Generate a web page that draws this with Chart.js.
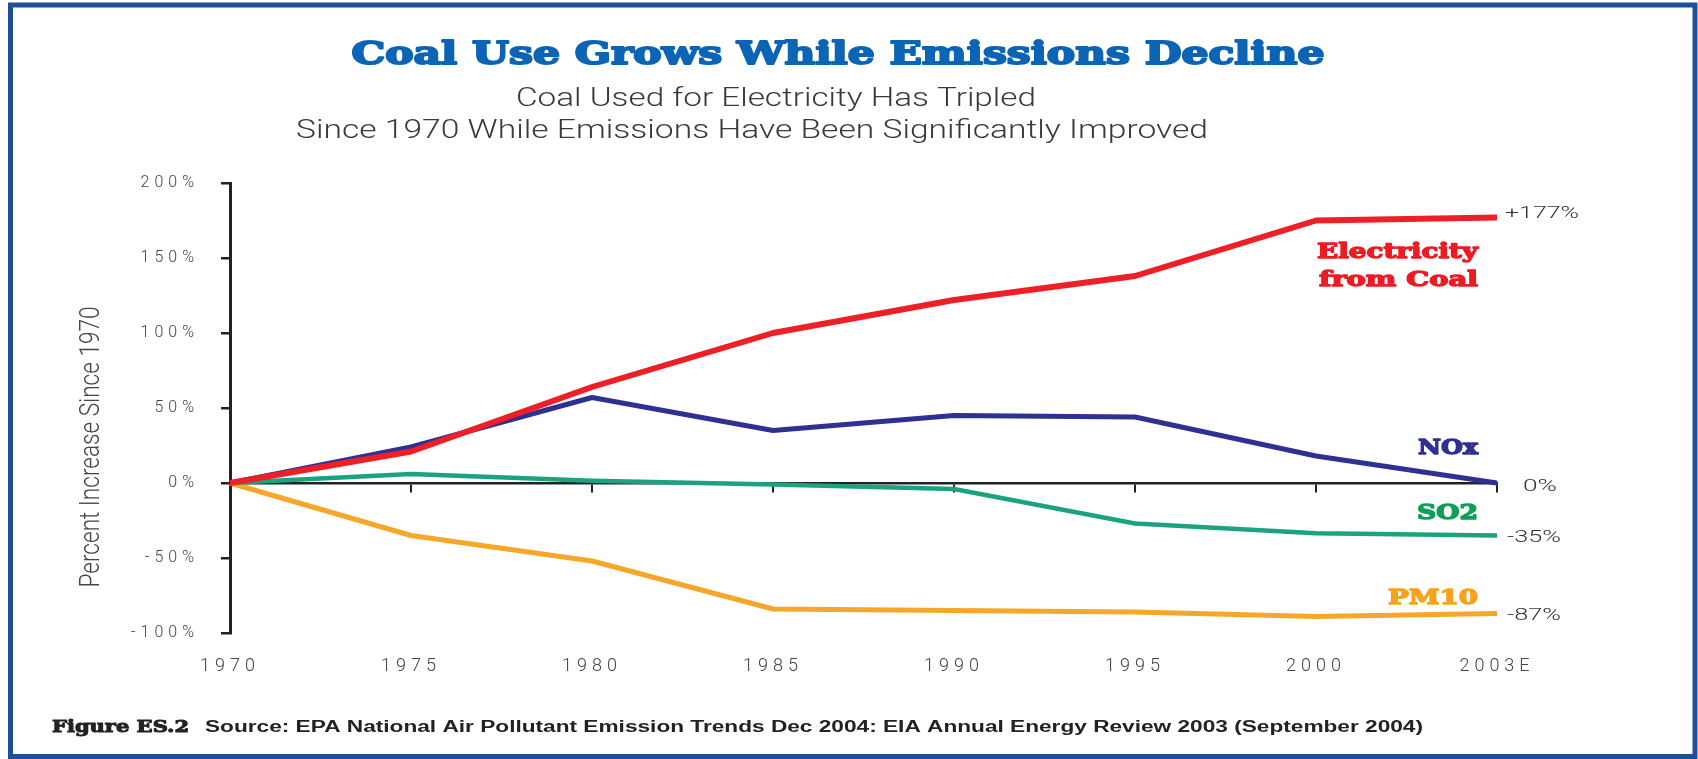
<!DOCTYPE html>
<html>
<head>
<meta charset="utf-8">
<title>Coal Use Grows While Emissions Decline</title>
<script src="https://cdn.jsdelivr.net/npm/chart.js@4.4.1/dist/chart.umd.min.js"></script>
<style>
    html, body { margin: 0; padding: 0; background: #fff; }
    #wrap { width: 1698px; height: 759px; position: relative; }
</style>
</head>
<body>
<div id="wrap"><canvas id="myChart"></canvas></div>
<script>
let years = ['1970', '1975', '1980', '1985', '1990', '1995', '2000', '2003E'];
let electricity = [0, 21, 64, 100, 122, 138, 175, 177];
let nox = [0, 24, 57, 35, 45, 44, 18, 0];
let so2 = [0, 6, 1.5, -1, -4, -27, -33.5, -35];
let pm10 = [0, -35, -52, -84, -85, -86, -89, -87];
let seriesNames = ['Electricity from Coal', 'NOx', 'SO2', 'PM10'];
let endLabels = ['+177%', '0%', '-35%', '-87%'];
let yTicks = [-100, -50, 0, 50, 100, 150, 200];

let lineColors = ['#ed2027', '#2e3192', '#1ba37f', '#f6a629'];
let labelColors = ['#ec1c24', '#2e3192', '#0f9f57', '#f5a31f'];

// draws a line of text squeezed/stretched to the width it has in the printed figure
// heavy > 0 thickens the glyphs with a stroke (the print uses a black-weight face)
function fitText(ctx, text, x, y, width, font, color, align, heavy) {
    ctx.save();
    ctx.letterSpacing = '0px';
    ctx.font = font;
    ctx.fillStyle = color;
    ctx.textBaseline = 'middle';
    ctx.textAlign = align || 'center';
    let w = ctx.measureText(text).width;
    ctx.translate(x, y);
    ctx.scale(width / w, 1);
    if (heavy) {
        ctx.strokeStyle = color;
        ctx.lineWidth = heavy;
        ctx.lineJoin = 'round';
        ctx.strokeText(text, 0, 0);
    }
    ctx.fillText(text, 0, 0);
    ctx.restore();
}

const annotations = {
    id: 'annotations',
    beforeDraw(chart) {
        // axis labels in the figure are widely set
        chart.ctx.letterSpacing = '5px';
    },
    beforeDatasetsDraw(chart) {
        chart.ctx.letterSpacing = '0px';
    },
    afterDraw(chart) {
        const ctx = chart.ctx;
        const area = chart.chartArea;

        // blue frame round the figure
        ctx.save();
        ctx.strokeStyle = '#1d4f9b';
        ctx.lineWidth = 5;
        ctx.strokeRect(10.5, 5, 1684.5, 751.5);
        ctx.restore();

        const serif = 'bold 32px "DejaVu Serif"';
        const light = '300 26px Roboto';
        fitText(ctx, 'Coal Use Grows While Emissions Decline', 838, 56, 973, serif, '#0b64b4', 'center', 2);
        fitText(ctx, 'Coal Used for Electricity Has Tripled', 776, 99, 520, light, '#3a3a3a');
        fitText(ctx, 'Since 1970 While Emissions Have Been Significantly Improved', 752, 131, 912, light, '#3a3a3a');

        // y axis title
        ctx.save();
        ctx.translate(92, 447);
        ctx.rotate(-Math.PI / 2);
        fitText(ctx, 'Percent Increase Since 1970', 0, 0, 281, '300 28px Roboto', '#444');
        ctx.restore();

        // series names next to the lines
        const nameY = [[253, 281], [449], [514], [599]];
        const nameW = [[161, 159], [60], [61], [90]];
        seriesNames.forEach((name, i) => {
            let sp = name.indexOf(' ');
            let lines = i === 0 ? [name.slice(0, sp), name.slice(sp + 1)] : [name];
            lines.forEach((line, j) => {
                fitText(ctx, line, area.right - 19, nameY[i][j], nameW[i][j],
                    'bold 21px "DejaVu Serif"', labelColors[i], 'right', 1.4);
            });
        });

        // end values at the right of each line
        const dx = [8, 26, 10, 10];
        const dy = [-4, 4, 2, 2];
        const endW = [74, 34, 54, 54];
        endLabels.forEach((txt, i) => {
            let pts = chart.getDatasetMeta(i).data;
            let p = pts[pts.length - 1];
            fitText(ctx, txt, p.x + dx[i], p.y + dy[i], endW[i], '300 17px Roboto', '#333', 'left');
        });

        // figure note
        fitText(ctx, 'Figure ES.2', 52, 728, 137, 'bold 17px "DejaVu Serif"', '#222', 'left', 1);
        fitText(ctx, 'Source: EPA National Air Pollutant Emission Trends Dec 2004: EIA Annual Energy Review 2003 (September 2004)',
            205, 728, 1218, 'bold 16px "Liberation Sans"', '#222', 'left');
    }
};

function makeLine(i, values, width) {
    return {
        label: seriesNames[i],
        data: values,
        borderColor: lineColors[i],
        backgroundColor: lineColors[i],
        borderWidth: width,
        fill: false
    };
}

var ctx = document.getElementById('myChart').getContext('2d');
var chart = new Chart(ctx, {
    type: 'line',
    data: {
        labels: years,
        datasets: [
            makeLine(0, electricity, 6),
            makeLine(1, nox, 5),
            makeLine(2, so2, 4.5),
            makeLine(3, pm10, 5)
        ]
    },
    options: {
        responsive: true,
        maintainAspectRatio: false,
        animation: false,
        layout: { padding: { top: 183, right: 201, bottom: 0, left: 0 } },
        elements: {
            point: { radius: 0, hoverRadius: 0 },
            line: { tension: 0, borderJoinStyle: 'round' }
        },
        datasets: { line: { clip: false } },
        plugins: {
            legend: { display: false },
            tooltip: { enabled: false }
        },
        scales: {
            x: {
                type: 'category',
                position: 'bottom',
                grid: { display: false, drawTicks: false },
                border: { display: false },
                ticks: {
                    color: '#444',
                    font: { family: 'Roboto', weight: '300', size: 18 },
                    padding: 23,
                    maxRotation: 0,
                    autoSkip: false
                },
                afterFit(scale) { scale.height = 126; }
            },
            // the 0% line with its year ticks
            x0: {
                axis: 'x',
                type: 'category',
                position: { y: 0 },
                grid: { drawOnChartArea: false, drawTicks: true, tickLength: 8, color: '#222', lineWidth: 2 },
                border: { color: '#222', width: 2.5 },
                ticks: { display: false }
            },
            y: {
                position: 'left',
                min: yTicks[0],
                max: yTicks[yTicks.length - 1],
                grid: { drawOnChartArea: false, tickLength: 9, color: '#222', lineWidth: 2.5 },
                border: { color: '#222', width: 3 },
                ticks: {
                    stepSize: yTicks[1] - yTicks[0],
                    color: '#444',
                    font: { family: 'Roboto', weight: '300', size: 16 },
                    padding: 22,
                    callback: v => v + '%'
                },
                afterFit(scale) { scale.width = 230; }
            }
        }
    },
    plugins: [annotations]
});
</script>
</body>
</html>
